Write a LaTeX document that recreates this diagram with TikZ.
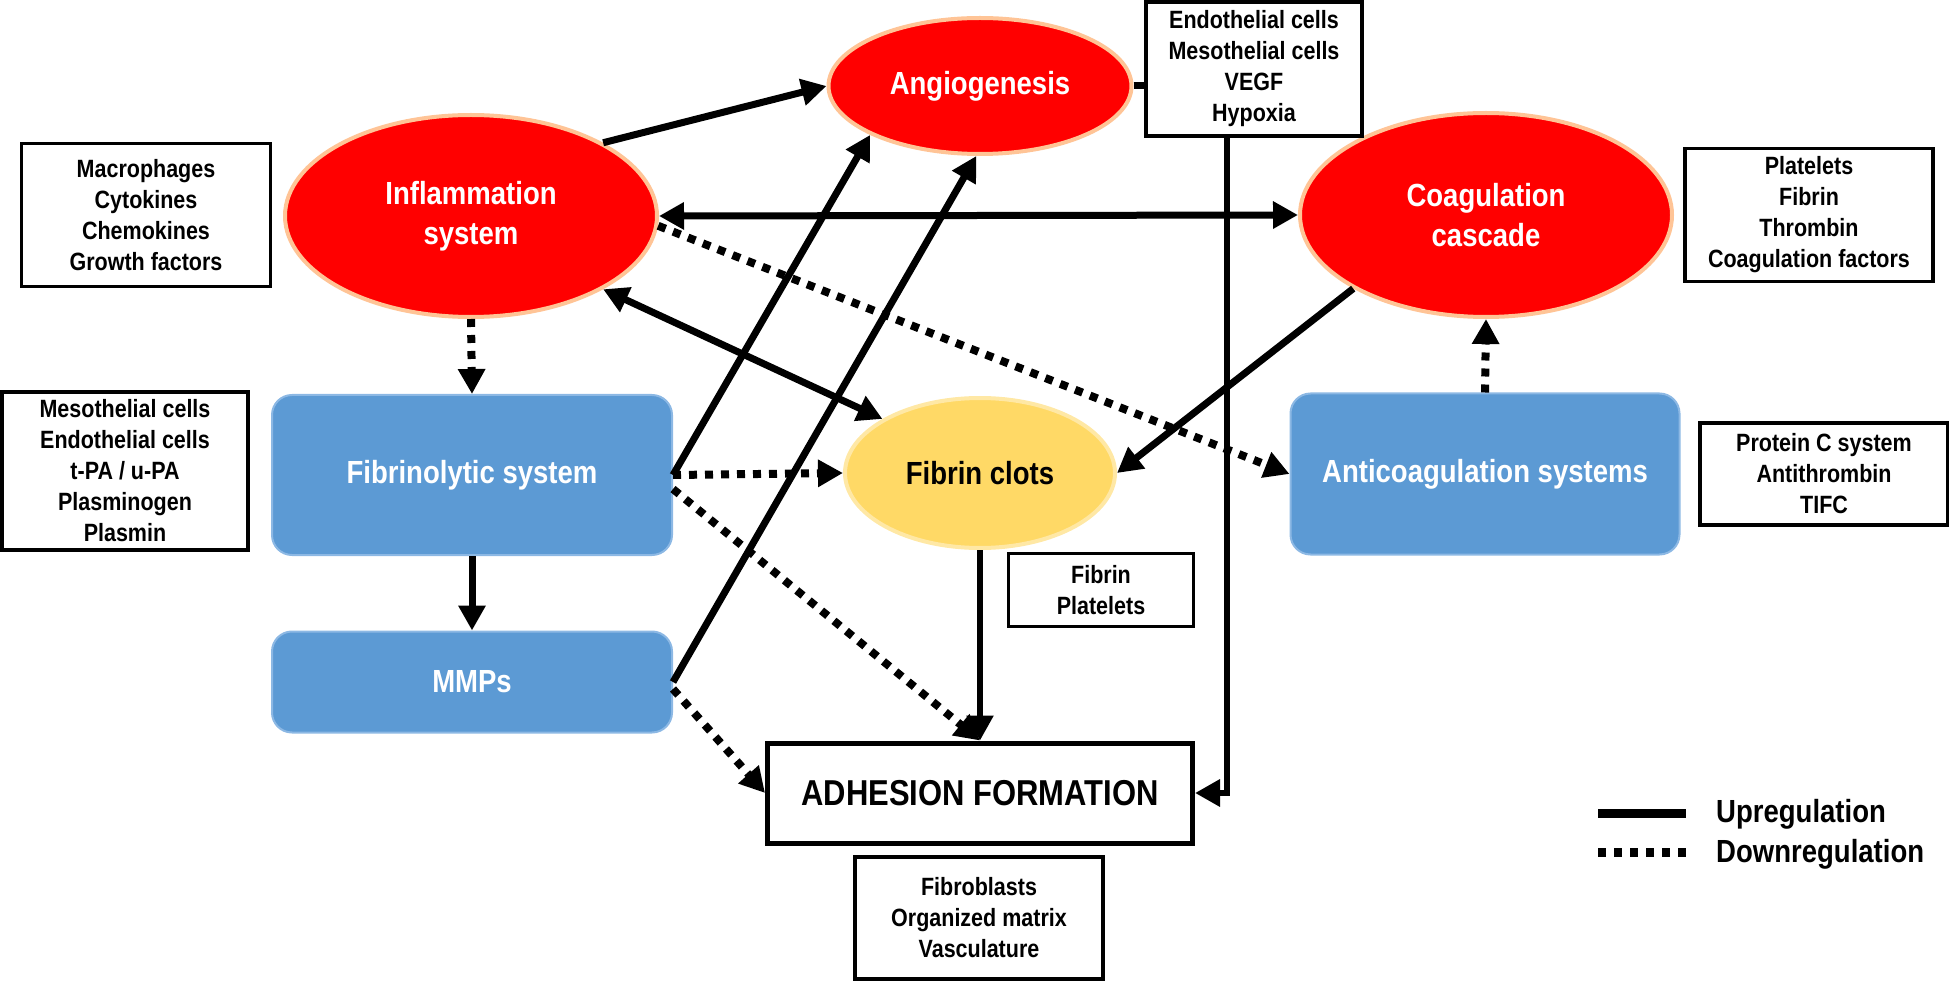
\documentclass[tikz,border=0pt]{standalone}
\usepackage{fontspec}
\setmainfont{Liberation Sans}[FakeStretch=0.86]
\usetikzlibrary{arrows.meta,shapes.geometric}
\definecolor{redfill}{RGB}{255,0,0}
\definecolor{redglow}{RGB}{255,196,150}
\definecolor{bluefill}{RGB}{92,154,212}
\definecolor{blueedge}{RGB}{140,184,228}
\definecolor{clotfill}{RGB}{255,217,102}
\definecolor{clotedge}{RGB}{255,232,165}
\begin{document}
\begin{tikzpicture}[x=1pt,y=-1pt,
    bigfont/.style={font=\fontsize{32}{40}\selectfont\bfseries},
    proc/.style={ellipse,fill=redfill,draw=redglow,line width=4pt,text=white,inner sep=0pt,align=center,bigfont},
    clot/.style={ellipse,fill=clotfill,draw=clotedge,line width=4pt,inner sep=0pt,align=center,bigfont},
    sys/.style={rectangle,rounded corners=20pt,fill=bluefill,draw=blueedge,line width=2pt,text=white,inner sep=0pt,align=center,bigfont},
    info/.style={rectangle,draw,line width=3.3pt,fill=white,inner sep=0pt,align=center,font=\fontsize{25}{31}\selectfont\bfseries},
    upreg/.style={line width=7pt,-{Triangle[length=25pt,width=26pt]}},
    downreg/.style={line width=8pt,dash pattern=on 8pt off 8pt,-{Triangle[length=25pt,width=26pt]}}]
      \useasboundingbox (0,0) rectangle (1949,981);
      % processes
      \path
        (471,216) node[proc,minimum width=372pt,minimum height=202pt] (infl) {Inflammation\\system}
        (980,86) node[proc,minimum width=303pt,minimum height=136pt] (angio) {Angiogenesis}
        (1486,215) node[proc,minimum width=372pt,minimum height=204pt] (coag) {Coagulation\\cascade}
        (980,473) node[clot,minimum width=270pt,minimum height=150pt] (clots) {Fibrin clots};
      \path
        (472,475) node[sys,minimum width=400pt,minimum height=160pt] (fibrinol) {Fibrinolytic system}
        (472,682) node[sys,minimum width=400pt,minimum height=101pt] (mmps) {MMPs}
        (1485,474) node[sys,minimum width=389pt,minimum height=161pt] (anticoag) {Anticoagulation systems};
      \node[draw,line width=5pt,minimum width=425pt,minimum height=100pt,font=\fontsize{36}{40}\selectfont\bfseries]
        (adhesion) at (980,793) {ADHESION FORMATION};
      % mediators
      \path
        (146,215) node[info,minimum width=249pt,minimum height=143pt] (inflinfo) {Macrophages\\Cytokines\\Chemokines\\Growth factors}
        (125,471) node[info,minimum width=246pt,minimum height=158pt] (fibrinolinfo) {Mesothelial cells\\Endothelial cells\\t-PA / u-PA\\Plasminogen\\Plasmin}
        (1254,69) node[info,minimum width=216pt,minimum height=134pt] (angioinfo) {Endothelial cells\\Mesothelial cells\\VEGF\\Hypoxia}
        (1809,215) node[info,minimum width=248pt,minimum height=133pt] (coaginfo) {Platelets\\Fibrin\\Thrombin\\Coagulation factors}
        (1824,474) node[info,minimum width=248pt,minimum height=102pt] (anticoaginfo) {Protein C system\\Antithrombin\\TIFC}
        (1101,590) node[info,minimum width=185pt,minimum height=73pt] (clotinfo) {Fibrin\\Platelets}
        (979,918) node[info,minimum width=248pt,minimum height=122pt] (adhesioninfo) {Fibroblasts\\Organized matrix\\Vasculature};
      % downregulation
      \begin{scope}[downreg]
        \draw (infl.-3) to (anticoag.west);
        \draw (infl.south) to (fibrinol.north);
        \draw (fibrinol.east) to (clots.west);
        \draw (fibrinol.-4) to (adhesion.north);
        \draw (mmps.-2) to (adhesion.west);
        \draw (anticoag.north) to (coag.south);
      \end{scope}
      % upregulation
      \begin{scope}[upreg]
        \draw (infl.29) to (angio.180);
        \draw[{Triangle[length=25pt,width=26pt]}-{Triangle[length=25pt,width=26pt]}] (infl.east) to (coag.west);
        \draw[{Triangle[length=25pt,width=26pt]}-{Triangle[length=25pt,width=26pt]}] (infl.-29) to (clots.151);
        \draw (fibrinol.east) to (angio.204);
        \draw (mmps.east) to (angio.267);
        \draw (fibrinol.south) to (mmps.north);
        \draw[line width=5.5pt] (clots.south) to (adhesion.north);
        \draw (coag.209) to (clots.east);
        \draw[line width=6.5pt] ([xshift=-27pt]angioinfo.south) |- (adhesion.east);
      \end{scope}
      \draw[line width=7pt] (angio.east) -- (angio.east -| angioinfo.west);
      % legend
      \coordinate (upA) at (1598,813);
      \coordinate (upB) at (1686,813);
      \coordinate (downA) at (1598,852);
      \coordinate (downB) at (1686,852);
      \draw[line width=9pt] (upA) -- (upB);
      \draw[line width=9pt,dash pattern=on 8pt off 8pt] (downA) -- (downB);
      \node[anchor=base west,inner sep=0pt,bigfont] (uplabel) at (1716,822) {Upregulation};
      \node[anchor=base west,inner sep=0pt,bigfont] (downlabel) at (1716,862) {Downregulation};
    \end{tikzpicture}
\end{document}
